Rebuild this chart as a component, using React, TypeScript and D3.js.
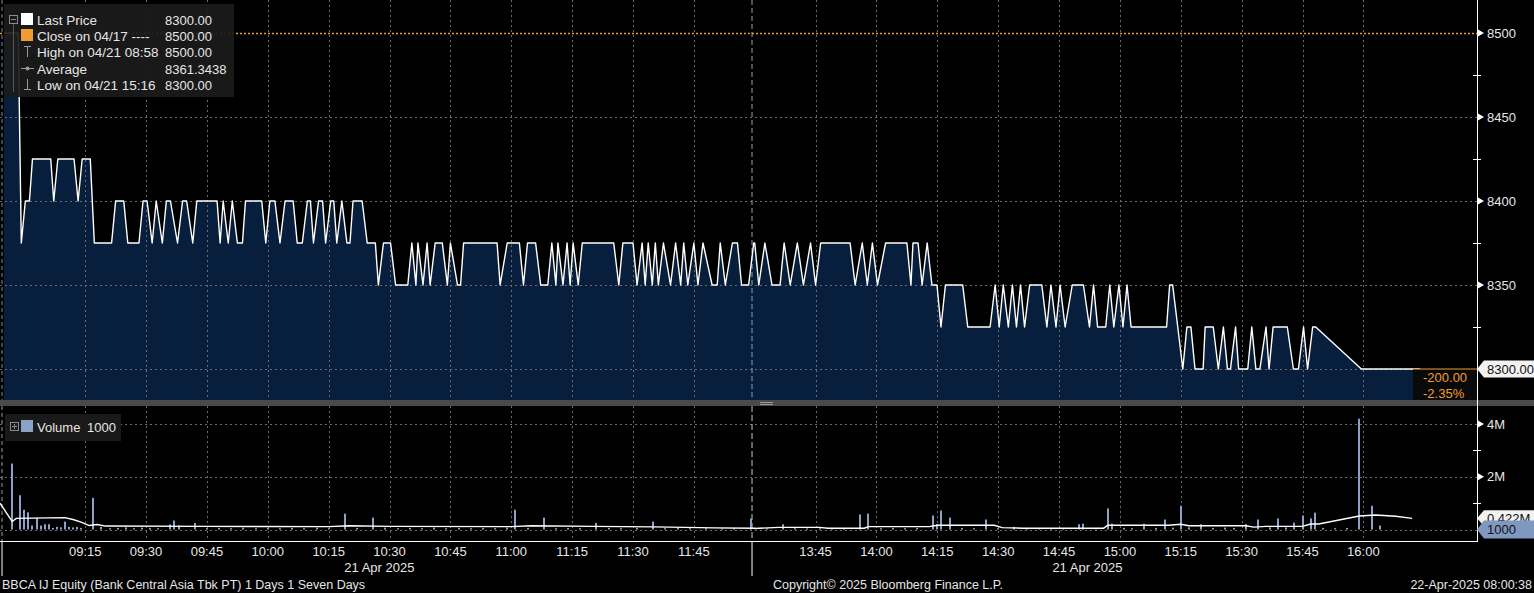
import React, { useEffect } from "react";
import * as d3 from "d3";

// ---------- DATA ----------
const priceMorning: [string, number][] = [
  ["08:55:00", 8500], ["08:58:30", 8500], ["08:59:15", 8375], ["09:00:15", 8400], ["09:01:15", 8400],
  ["09:02:00", 8425], ["09:06:30", 8425], ["09:07:15", 8400], ["09:08:15", 8425], ["09:12:15", 8425],
  ["09:13:15", 8400], ["09:14:15", 8425], ["09:16:15", 8425], ["09:17:15", 8375], ["09:21:30", 8375],
  ["09:22:30", 8400], ["09:24:30", 8400], ["09:25:30", 8375], ["09:28:15", 8375], ["09:29:15", 8400],
  ["09:30:15", 8400], ["09:31:30", 8375], ["09:32:30", 8400], ["09:34:00", 8375], ["09:35:00", 8400],
  ["09:36:00", 8400], ["09:37:45", 8375], ["09:39:00", 8400], ["09:40:00", 8400], ["09:41:30", 8375],
  ["09:42:30", 8400], ["09:47:30", 8400], ["09:48:15", 8375], ["09:49:00", 8400], ["09:50:15", 8375],
  ["09:51:15", 8400], ["09:52:30", 8375], ["09:53:45", 8375], ["09:54:30", 8400], ["09:58:30", 8400],
  ["09:59:30", 8375], ["10:00:30", 8400], ["10:01:45", 8400], ["10:03:00", 8375], ["10:04:15", 8400],
  ["10:06:15", 8400], ["10:07:15", 8375], ["10:08:30", 8375], ["10:09:45", 8400], ["10:10:30", 8400],
  ["10:11:15", 8375], ["10:12:30", 8400], ["10:13:30", 8400], ["10:14:15", 8375], ["10:15:30", 8400],
  ["10:16:15", 8400], ["10:17:00", 8375], ["10:18:15", 8400], ["10:19:30", 8375], ["10:20:15", 8375],
  ["10:21:00", 8400], ["10:23:15", 8400], ["10:24:30", 8375], ["10:26:30", 8375], ["10:27:15", 8350],
  ["10:28:30", 8375], ["10:30:15", 8375], ["10:31:30", 8350], ["10:34:30", 8350], ["10:35:30", 8375],
  ["10:36:30", 8350], ["10:37:00", 8375], ["10:38:15", 8350], ["10:39:15", 8375], ["10:40:00", 8350],
  ["10:41:15", 8375], ["10:43:00", 8375], ["10:44:15", 8350], ["10:45:00", 8375], ["10:46:45", 8350],
  ["10:47:30", 8350], ["10:48:15", 8375], ["10:56:30", 8375], ["10:57:15", 8350], ["10:59:00", 8375],
  ["11:02:00", 8375], ["11:03:00", 8350], ["11:04:00", 8375], ["11:06:00", 8375], ["11:07:15", 8350],
  ["11:09:00", 8350], ["11:10:00", 8375], ["11:11:00", 8350], ["11:11:30", 8375], ["11:12:45", 8350],
  ["11:13:45", 8375], ["11:14:30", 8350], ["11:15:15", 8375], ["11:16:30", 8350], ["11:17:30", 8375],
  ["11:25:15", 8375], ["11:26:30", 8350], ["11:27:30", 8375], ["11:30:00", 8375], ["11:31:00", 8350],
  ["11:32:15", 8375], ["11:33:00", 8350], ["11:33:45", 8375], ["11:34:45", 8350], ["11:35:30", 8375],
  ["11:36:15", 8350], ["11:37:30", 8375], ["11:39:15", 8350], ["11:40:30", 8375], ["11:41:45", 8350],
  ["11:42:30", 8375], ["11:43:30", 8350], ["11:45:00", 8375], ["11:46:00", 8350], ["11:47:15", 8375],
  ["11:49:30", 8350], ["11:50:45", 8350], ["11:51:30", 8375], ["11:52:45", 8350], ["11:54:30", 8375],
  ["11:55:45", 8375], ["11:56:45", 8350], ["11:58:30", 8350], ["11:59:45", 8375],
];

const priceAfternoon: [string, number][] = [
  ["13:30:00", 8375], ["13:31:00", 8350], ["13:32:30", 8375], ["13:34:15", 8350], ["13:36:15", 8350],
  ["13:37:15", 8375], ["13:38:45", 8350], ["13:40:30", 8375], ["13:42:00", 8350], ["13:43:45", 8375],
  ["13:45:00", 8350], ["13:46:15", 8375], ["13:53:30", 8375], ["13:54:45", 8350], ["13:56:30", 8375],
  ["13:57:45", 8350], ["13:59:00", 8375], ["14:00:15", 8350], ["14:02:15", 8375], ["14:07:30", 8375],
  ["14:08:30", 8350], ["14:09:00", 8375], ["14:10:15", 8375], ["14:11:15", 8350], ["14:12:30", 8375],
  ["14:13:40", 8350], ["14:14:55", 8350], ["14:15:54", 8325], ["14:17:00", 8350], ["14:21:15", 8350],
  ["14:22:30", 8325], ["14:28:00", 8325], ["14:29:15", 8350], ["14:30:15", 8325], ["14:31:15", 8350],
  ["14:32:30", 8325], ["14:33:30", 8350], ["14:34:30", 8325], ["14:35:30", 8350], ["14:36:30", 8325],
  ["14:37:45", 8350], ["14:40:45", 8350], ["14:42:00", 8325], ["14:43:00", 8350], ["14:44:15", 8325],
  ["14:45:15", 8350], ["14:46:30", 8325], ["14:48:15", 8350], ["14:51:00", 8350], ["14:52:30", 8325],
  ["14:53:30", 8350], ["14:54:30", 8325], ["14:56:30", 8325], ["14:57:30", 8350], ["14:58:30", 8325],
  ["14:59:45", 8350], ["15:00:45", 8325], ["15:01:45", 8350], ["15:02:45", 8325], ["15:11:30", 8325],
  ["15:12:15", 8350], ["15:13:00", 8350], ["15:15:30", 8300], ["15:16:30", 8325], ["15:17:30", 8325],
  ["15:18:30", 8300], ["15:20:30", 8300], ["15:21:00", 8325], ["15:23:00", 8325], ["15:24:15", 8300],
  ["15:25:30", 8325], ["15:26:30", 8300], ["15:27:15", 8300], ["15:28:30", 8325], ["15:29:15", 8300],
  ["15:31:30", 8300], ["15:32:30", 8325], ["15:33:30", 8300], ["15:34:30", 8300], ["15:36:00", 8325],
  ["15:36:45", 8300], ["15:37:45", 8325], ["15:41:15", 8325], ["15:42:45", 8300], ["15:44:00", 8300],
  ["15:45:15", 8325], ["15:46:15", 8300], ["15:47:30", 8325], ["15:48:15", 8325], ["15:59:30", 8300],
  ["16:14:00", 8300],
];

// volume in millions of shares
const volumeBars: [string, number][] = [
  ["08:57", 2.5], ["08:59", 1.3], ["09:00", 0.75], ["09:01", 0.65], ["09:02", 0.15], ["09:03", 0.45],
  ["09:04", 0.15], ["09:05", 0.2], ["09:06", 0.2], ["09:07", 0.06], ["09:08", 0.1], ["09:09", 0.08],
  ["09:10", 0.3], ["09:11", 0.1], ["09:12", 0.08], ["09:13", 0.1], ["09:14", 0.06], ["09:17", 1.2],
  ["09:19", 0.1], ["09:21", 0.05], ["09:23", 0.06], ["09:25", 0.08], ["09:27", 0.05], ["09:29", 0.07],
  ["09:31", 0.06], ["09:33", 0.05], ["09:36", 0.19], ["09:37", 0.34], ["09:38", 0.15], ["09:42", 0.25],
  ["09:45", 0.05], ["09:48", 0.06], ["09:51", 0.05], ["09:54", 0.07], ["09:57", 0.05], ["10:00", 0.06],
  ["10:03", 0.05], ["10:06", 0.06], ["10:09", 0.05], ["10:12", 0.07], ["10:15", 0.05], ["10:19", 0.6],
  ["10:22", 0.06], ["10:26", 0.45], ["10:29", 0.07], ["10:32", 0.05], ["10:35", 0.06], ["10:38", 0.05],
  ["10:41", 0.07], ["10:44", 0.05], ["10:47", 0.06], ["10:50", 0.05], ["10:53", 0.06], ["10:56", 0.05],
  ["10:59", 0.07], ["11:01", 0.75], ["11:04", 0.06], ["11:08", 0.45], ["11:11", 0.05], ["11:14", 0.06],
  ["11:17", 0.05], ["11:21", 0.25], ["11:24", 0.06], ["11:27", 0.05], ["11:31", 0.06], ["11:35", 0.3],
  ["11:38", 0.05], ["11:41", 0.06], ["11:44", 0.05], ["11:48", 0.05], ["11:52", 0.04], ["11:55", 0.05],
  ["11:59", 0.42], ["13:33", 0.04], ["13:37", 0.2], ["13:40", 0.05], ["13:43", 0.04], ["13:46", 0.05],
  ["13:49", 0.04], ["13:52", 0.05], ["13:56", 0.57], ["13:58", 0.6], ["14:01", 0.05], ["14:04", 0.06],
  ["14:07", 0.05], ["14:10", 0.06], ["14:14", 0.53], ["14:15", 0.2], ["14:16", 0.72], ["14:18", 0.45],
  ["14:21", 0.06], ["14:24", 0.05], ["14:27", 0.38], ["14:30", 0.05], ["14:34", 0.1], ["14:37", 0.05],
  ["14:40", 0.04], ["14:43", 0.05], ["14:46", 0.04], ["14:50", 0.2], ["14:51", 0.22], ["14:54", 0.05],
  ["14:57", 0.8], ["14:58", 0.22], ["15:01", 0.06], ["15:03", 0.05], ["15:06", 0.22], ["15:09", 0.06],
  ["15:11", 0.38], ["15:13", 0.07], ["15:15", 0.9], ["15:17", 0.08], ["15:20", 0.2], ["15:23", 0.06],
  ["15:26", 0.07], ["15:28", 0.06], ["15:31", 0.2], ["15:34", 0.38], ["15:37", 0.08], ["15:39", 0.42],
  ["15:41", 0.08], ["15:43", 0.26], ["15:45", 0.53], ["15:47", 0.42], ["15:48", 0.64], ["15:50", 0.06],
  ["15:53", 0.05], ["15:56", 0.06], ["15:59", 4.2], ["16:02", 0.9], ["16:04", 0.15],
];

const volumeAvg: [string, number][] = [
  ["08:54", 1.0], ["08:57", 0.3], ["08:58", 0.42], ["09:10", 0.45], ["09:12", 0.38], ["09:14", 0.28],
  ["09:16", 0.15], ["09:18", 0.19], ["09:20", 0.13], ["09:45", 0.12], ["10:15", 0.11], ["10:20", 0.14],
  ["10:30", 0.12], ["11:00", 0.11], ["11:05", 0.14], ["11:20", 0.12], ["11:35", 0.1], ["11:50", 0.06],
  ["12:00", 0.05], ["13:30", 0.04], ["13:36", 0.08], ["13:46", 0.08], ["13:48", 0.05], ["13:57", 0.05],
  ["13:58", 0.11], ["14:13", 0.11], ["14:15", 0.16], ["14:29", 0.16], ["14:31", 0.07], ["14:36", 0.05],
  ["14:56", 0.05], ["14:57", 0.16], ["15:12", 0.16], ["15:15", 0.2], ["15:17", 0.14], ["15:31", 0.14],
  ["15:33", 0.09], ["15:36", 0.12], ["15:45", 0.12], ["15:47", 0.21], ["15:49", 0.21], ["15:59", 0.51],
  ["16:03", 0.55], ["16:08", 0.5], ["16:12", 0.42],
];

const timeTicks = [
  "09:15", "09:30", "09:45", "10:00", "10:15", "10:30", "10:45", "11:00", "11:15", "11:30", "11:45",
  "13:45", "14:00", "14:15", "14:30", "14:45", "15:00", "15:15", "15:30", "15:45", "16:00",
];
const priceTicks = [8350, 8400, 8450, 8500];
const priceGrid = [8300, 8350, 8400, 8450];
const priceMinor = [8325, 8375, 8425, 8475];
const volTicks = [2, 4];
const volGrid = [0, 2, 4];
const volMinor = [1, 3];

const legendRows = [
  { label: "Last Price", value: "8300.00" },
  { label: "Close on 04/17 ----", value: "8500.00" },
  { label: "High on 04/21 08:58", value: "8500.00" },
  { label: "Average", value: "8361.3438" },
  { label: "Low on 04/21 15:16", value: "8300.00" },
];

const closePrice = 8500;
const lastPrice = 8300;
const avgVolumeLast = 0.422;
const lastVolume = 0.001;
const dayStart = "08:54:30";
const sessionBreak = "11:59:20";
const domainStart = "08:54";
const domainEnd = "16:28";
const dateLabel = "21 Apr 2025";

// ---------- HELPERS ----------
function tm(s: string): number {
  const [h, mi, se] = s.split(":").map(Number);
  const mins = h * 60 + mi + (se || 0) / 60;
  return mins >= 13 * 60 + 30 ? mins - 810 + 180 : mins - 540;
}

const FONT = "'Liberation Sans', Arial, Helvetica, sans-serif";
const TXT = "#e6e6e6";
const GRID = "#6b6b6b";
const ORANGE = "#f39b33";
const NAVY = "#071f3c";
const VOLBLUE = "#8aa2c6";

export default function App() {
  useEffect(() => {
    document.body.style.margin = "0";
    document.body.style.background = "#000";
  }, []);

  const W = 1534, H = 593;
  const plotR = 1477;
  const pTop = 0, pBot = 400;
  const vTop = 406, vBot = 541;

  const x = d3.scaleLinear().domain([tm(domainStart), tm(domainEnd)]).range([0, plotR]);
  const yP = d3.scaleLinear().domain([8300, 8500]).range([369, 33]);
  const yV = d3.scaleLinear().domain([0, 4]).range([529.5, 424]);

  const price = [...priceMorning, ...priceAfternoon].map(([t, p]) => ({ m: tm(t), p }));
  const line = d3.line<{ m: number; p: number }>().x((d) => x(d.m)).y((d) => yP(d.p));
  const area = d3.area<{ m: number; p: number }>().x((d) => x(d.m)).y0(pBot).y1((d) => yP(d.p));
  const vAvg = volumeAvg.map(([t, v]) => ({ m: tm(t), v }));
  const vLine = d3.line<{ m: number; v: number }>().x((d) => x(d.m)).y((d) => yV(d.v));

  const xStart = x(tm(dayStart));
  const xBreak = x(tm(sessionBreak));
  const morningMid = (x(price[0].m) + x(tm("12:00"))) / 2;
  const afternoonMid = (x(tm("13:30")) + x(price[price.length - 1].m)) / 2;

  const pointer = (y: number, x0 = plotR + 1) => `M${x0},${y - 3.5} L${x0 + 6},${y} L${x0},${y + 3.5} Z`;
  const tagPath = (y: number, h: number) =>
    `M${plotR},${y} L${plotR + 7},${y - h / 2} L${W},${y - h / 2} L${W},${y + h / 2} L${plotR + 7},${y + h / 2} Z`;

  return (
    <svg width={W} height={H} style={{ position: "absolute", left: 0, top: 0, display: "block", background: "#000" }}
      fontFamily={FONT}>
      <defs>
        <clipPath id="pclip"><rect x={0} y={pTop} width={plotR} height={pBot - pTop} /></clipPath>
        <clipPath id="vclip"><rect x={0} y={vTop} width={plotR} height={vBot - vTop} /></clipPath>
      </defs>
      <rect x={0} y={0} width={W} height={H} fill="#000" />

      {/* price area */}
      <g clipPath="url(#pclip)">
        <path d={area(price) || ""} fill={NAVY} />
        {priceGrid.map((v) => (
          <line key={v} x1={0} x2={plotR} y1={yP(v) + 0.5} y2={yP(v) + 0.5} stroke={GRID} strokeDasharray="2,3" />
        ))}
        {timeTicks.map((t) => (
          <line key={t} x1={Math.round(x(tm(t))) + 0.5} x2={Math.round(x(tm(t))) + 0.5} y1={pTop} y2={pBot}
            stroke={GRID} strokeDasharray="2,3" />
        ))}
        <line x1={xStart} x2={xStart} y1={pTop} y2={pBot} stroke="#7f8a99" strokeDasharray="4,3" />
        <line x1={xBreak} x2={xBreak} y1={pTop} y2={pBot} stroke="#9aa3ad" strokeDasharray="5,3" />
        <line x1={0} x2={plotR} y1={yP(closePrice) + 0.5} y2={yP(closePrice) + 0.5} stroke={ORANGE}
          strokeWidth={1.6} strokeDasharray="2,2" />
        <path d={line(price) || ""} fill="none" stroke="#ffffff" strokeWidth={1.4} strokeLinejoin="round" />
      </g>

      {/* last price change box */}
      <rect x={1413} y={yP(lastPrice)} width={plotR - 1413} height={pBot - yP(lastPrice)} fill="#0a0a0a" />
      <line x1={1413} x2={plotR} y1={yP(lastPrice)} y2={yP(lastPrice)} stroke={ORANGE} strokeWidth={1} />
      <text x={1423} y={yP(lastPrice) + 13} fill={ORANGE} fontSize={13}>-200.00</text>
      <text x={1423} y={yP(lastPrice) + 29} fill={ORANGE} fontSize={13}>-2.35%</text>

      {/* separator */}
      <rect x={0} y={pBot} width={W} height={vTop - pBot} fill="#4a4a4a" />
      <rect x={760} y={402} width={13} height={1} fill="#9a9a9a" />
      <rect x={760} y={404} width={13} height={1} fill="#9a9a9a" />

      {/* volume panel */}
      <g clipPath="url(#vclip)">
        {volGrid.map((v) => (
          <line key={v} x1={0} x2={plotR} y1={Math.round(yV(v)) + 0.5} y2={Math.round(yV(v)) + 0.5} stroke={GRID}
            strokeDasharray="2,3" />
        ))}
        {timeTicks.map((t) => (
          <line key={t} x1={Math.round(x(tm(t))) + 0.5} x2={Math.round(x(tm(t))) + 0.5} y1={vTop} y2={vBot}
            stroke={GRID} strokeDasharray="2,3" />
        ))}
        <line x1={xStart} x2={xStart} y1={vTop} y2={vBot} stroke="#9a9a9a" strokeDasharray="4,3" />
        <line x1={xBreak} x2={xBreak} y1={vTop} y2={vBot} stroke="#c8c8c8" strokeDasharray="6,3" />
        {volumeBars.map(([t, v]) => (
          <rect key={t} x={Math.round(x(tm(t))) - 1} y={yV(v)} width={2} height={yV(0) - yV(v)} fill={VOLBLUE} />
        ))}
        <path d={vLine(vAvg) || ""} fill="none" stroke="#ffffff" strokeWidth={1.4} />
      </g>

      {/* axes lines */}
      <line x1={plotR + 0.5} x2={plotR + 0.5} y1={0} y2={vBot} stroke="#ffffff" strokeWidth={1} />
      <line x1={0} x2={plotR + 1} y1={vBot + 0.5} y2={vBot + 0.5} stroke="#ffffff" strokeWidth={1} />
      <line x1={xStart} x2={xStart} y1={vBot} y2={576} stroke="#ffffff" />
      <line x1={xBreak} x2={xBreak} y1={vBot} y2={576} stroke="#ffffff" />

      {/* price axis labels */}
      {priceTicks.map((v) => (
        <g key={v}>
          <path d={pointer(yP(v))} fill="#ffffff" />
          <text x={plotR + 10} y={yP(v) + 4.5} fill={TXT} fontSize={13}>{v}</text>
        </g>
      ))}
      {priceMinor.map((v) => (
        <line key={v} x1={plotR - 4} x2={plotR + 4} y1={yP(v) + 0.5} y2={yP(v) + 0.5} stroke="#ffffff" />
      ))}
      <path d={tagPath(yP(lastPrice), 17)} fill="#f2f2f2" />
      <text x={plotR + 10} y={yP(lastPrice) + 4.5} fill="#111" fontSize={13}>{lastPrice.toFixed(2)}</text>

      {/* volume axis labels */}
      {volTicks.map((v) => (
        <g key={v}>
          <path d={pointer(yV(v))} fill="#ffffff" />
          <text x={plotR + 10} y={yV(v) + 4.5} fill={TXT} fontSize={13}>{v}M</text>
        </g>
      ))}
      {volMinor.map((v) => (
        <line key={v} x1={plotR - 4} x2={plotR + 4} y1={Math.round(yV(v)) + 0.5} y2={Math.round(yV(v)) + 0.5} stroke="#ffffff" />
      ))}
      <path d={tagPath(yV(avgVolumeLast), 16)} fill="#f2f2f2" />
      <text x={plotR + 10} y={yV(avgVolumeLast) + 4.5} fill="#111" fontSize={13}>{avgVolumeLast}M</text>
      <path d={tagPath(yV(lastVolume), 18)} fill="#7f98c0" />
      <text x={plotR + 10} y={yV(lastVolume) + 5} fill="#111" fontSize={13}>1000</text>

      {/* x axis labels */}
      {timeTicks.map((t) => (
        <text key={t} x={x(tm(t))} y={556} fill={TXT} fontSize={13} textAnchor="middle">{t}</text>
      ))}
      <text x={morningMid} y={572} fill={TXT} fontSize={13} textAnchor="middle">{dateLabel}</text>
      <text x={afternoonMid} y={572} fill={TXT} fontSize={13} textAnchor="middle">{dateLabel}</text>

      {/* footer */}
      <text x={2} y={589} fill={TXT} fontSize={12.5}>BBCA IJ Equity (Bank Central Asia Tbk PT) 1 Days 1 Seven Days</text>
      <text x={773} y={589} fill={TXT} fontSize={12.5}>Copyright© 2025 Bloomberg Finance L.P.</text>
      <text x={1532} y={589} fill={TXT} fontSize={12.5} textAnchor="end">22-Apr-2025 08:00:38</text>

      {/* price legend */}
      <rect x={4} y={4} width={230} height={93} fill="#1b1b1b" opacity={0.92} />
      <line x1={13.5} x2={13.5} y1={23} y2={92} stroke="#555" />
      <rect x={9.5} y={15.5} width={8} height={8} fill="none" stroke="#8a8a8a" />
      <line x1={11} x2={16} y1={19.5} y2={19.5} stroke="#8a8a8a" />
      <rect x={21} y={13} width={12} height={12} fill="#ffffff" />
      <rect x={21} y={29} width={12} height={12} fill={ORANGE} />
      <line x1={27.5} x2={27.5} y1={46} y2={57} stroke="#9a9a9a" />
      <line x1={24} x2={31} y1={46.5} y2={46.5} stroke="#9a9a9a" />
      <line x1={21} x2={34} y1={68.5} y2={68.5} stroke="#9a9a9a" />
      <circle cx={27.5} cy={68.5} r={2} fill="#9a9a9a" />
      <line x1={27.5} x2={27.5} y1={79} y2={90} stroke="#9a9a9a" />
      <line x1={24} x2={31} y1={89.5} y2={89.5} stroke="#9a9a9a" />
      {legendRows.map((r, i) => (
        <g key={r.label}>
          <text x={37} y={25 + i * 16.2} fill={TXT} fontSize={13.5}>{r.label}</text>
          <text x={165} y={25 + i * 16.2} fill={TXT} fontSize={13}>{r.value}</text>
        </g>
      ))}

      {/* volume legend */}
      <rect x={5} y={414} width={116} height={27} fill="#1b1b1b" opacity={0.92} />
      <rect x={10.5} y={422.5} width={8} height={8} fill="none" stroke="#8a8a8a" />
      <line x1={12} x2={17} y1={426.5} y2={426.5} stroke="#8a8a8a" />
      <line x1={14.5} x2={14.5} y1={424} y2={429} stroke="#8a8a8a" />
      <rect x={21} y={420} width={12} height={12} fill={VOLBLUE} />
      <text x={37} y={432} fill={TXT} fontSize={13}>Volume</text>
      <text x={87} y={432} fill={TXT} fontSize={13}>1000</text>
    </svg>
  );
}
